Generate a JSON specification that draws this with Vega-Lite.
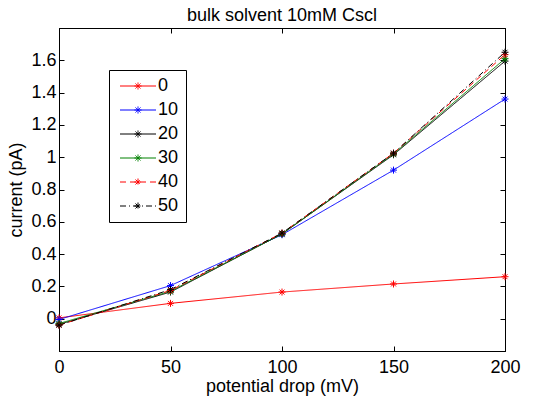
{
  "$schema": "https://vega.github.io/schema/vega-lite/v6.json",
  "width": 446,
  "height": 323,
  "autosize": {"type": "none"},
  "padding": {"left": 59, "top": 28, "right": 40, "bottom": 46},
  "background": "white",
  "title": {"text": "bulk solvent 10mM Cscl", "fontSize": 18, "font": "Liberation Sans", "fontWeight": "normal", "color": "black", "anchor": "middle", "offset": 3, "frame": "group"},
  "config": {
    "view": {"stroke": "black", "strokeWidth": 1},
    "font": "Liberation Sans",
    "axis": {"grid": false, "labelFlush": false, "labelOverlap": false, "domainColor": "black", "tickColor": "black", "labelColor": "black", "titleColor": "black", "labelFont": "Liberation Sans", "titleFont": "Liberation Sans", "labelFontSize": 18, "titleFontSize": 18, "titleFontWeight": "normal", "tickSize": -5, "domainWidth": 1, "tickWidth": 1}
  },
  "data": {"values": [
    {"x": 0, "y": 0.005, "series": "0"},
    {"x": 50, "y": 0.095, "series": "0"},
    {"x": 100, "y": 0.165, "series": "0"},
    {"x": 150, "y": 0.215, "series": "0"},
    {"x": 200, "y": 0.26, "series": "0"},
    {"x": 0, "y": -0.005, "series": "10"},
    {"x": 50, "y": 0.205, "series": "10"},
    {"x": 100, "y": 0.52, "series": "10"},
    {"x": 150, "y": 0.92, "series": "10"},
    {"x": 200, "y": 1.36, "series": "10"},
    {"x": 0, "y": -0.035, "series": "20"},
    {"x": 50, "y": 0.165, "series": "20"},
    {"x": 100, "y": 0.525, "series": "20"},
    {"x": 150, "y": 1.015, "series": "20"},
    {"x": 200, "y": 1.595, "series": "20"},
    {"x": 0, "y": -0.03, "series": "30"},
    {"x": 50, "y": 0.17, "series": "30"},
    {"x": 100, "y": 0.525, "series": "30"},
    {"x": 150, "y": 1.02, "series": "30"},
    {"x": 200, "y": 1.61, "series": "30"},
    {"x": 0, "y": -0.04, "series": "40"},
    {"x": 50, "y": 0.175, "series": "40"},
    {"x": 100, "y": 0.53, "series": "40"},
    {"x": 150, "y": 1.025, "series": "40"},
    {"x": 200, "y": 1.635, "series": "40"},
    {"x": 0, "y": -0.04, "series": "50"},
    {"x": 50, "y": 0.18, "series": "50"},
    {"x": 100, "y": 0.53, "series": "50"},
    {"x": 150, "y": 1.025, "series": "50"},
    {"x": 200, "y": 1.65, "series": "50"}
  ]},
  "layer": [
    {
      "mark": {"type": "line", "strokeWidth": 1, "clip": false},
      "encoding": {
        "x": {"field": "x", "type": "quantitative", "scale": {"domain": [0, 200], "nice": false}, "axis": {"values": [0, 50, 100, 150, 200], "title": "potential drop (mV)", "labelPadding": 12, "titlePadding": 1}},
        "y": {"field": "y", "type": "quantitative", "scale": {"domain": [-0.2, 1.8], "nice": false, "zero": false}, "axis": {"values": [0, 0.2, 0.4, 0.6, 0.8, 1, 1.2, 1.4, 1.6], "format": "~g", "title": "current (pA)", "labelPadding": 8, "titlePadding": 5}},
        "color": {"field": "series", "type": "nominal", "scale": {"domain": ["0", "10", "20", "30", "40", "50"], "range": ["#ff0000", "#0000ff", "#000000", "#008000", "#ff0000", "#000000"]},
          "legend": {"orient": "none", "legendX": 50, "legendY": 42, "title": null, "symbolType": "M-1,0H6.2M2.6,-0.7V0.7M1.9,0H3.3M2.1,-0.5L3.1,0.5M2.1,0.5L3.1,-0.5", "symbolSize": 100, "symbolStrokeWidth": 1, "labelFontSize": 18, "labelFont": "Liberation Sans", "labelColor": "black", "labelOffset": 24, "rowPadding": 6, "strokeColor": "black", "fillColor": "white", "padding": 7, "cornerRadius": 0}},
        "strokeDash": {"field": "series", "type": "nominal", "scale": {"domain": ["0", "10", "20", "30", "40", "50"], "range": [[1, 0], [1, 0], [1, 0], [1, 0], [6, 4], [6, 3, 1, 3]]},
          "legend": {"orient": "none", "legendX": 50, "legendY": 42, "title": null, "symbolType": "M-1,0H6.2M2.6,-0.7V0.7M1.9,0H3.3M2.1,-0.5L3.1,0.5M2.1,0.5L3.1,-0.5", "symbolSize": 100, "symbolStrokeWidth": 1, "labelFontSize": 18, "labelFont": "Liberation Sans", "labelColor": "black", "labelOffset": 24, "rowPadding": 6, "strokeColor": "black", "fillColor": "white", "padding": 7, "cornerRadius": 0}}
      }
    },
    {
      "mark": {"type": "point", "shape": "M0,-1V1M-1,0H1M-0.7,-0.7L0.7,0.7M-0.7,0.7L0.7,-0.7", "filled": false, "size": 49, "strokeWidth": 1, "opacity": 1, "clip": false},
      "encoding": {
        "x": {"field": "x", "type": "quantitative", "scale": {"domain": [0, 200], "nice": false}, "axis": {"orient": "top", "values": [0, 50, 100, 150, 200], "labels": false, "title": null}},
        "y": {"field": "y", "type": "quantitative", "scale": {"domain": [-0.2, 1.8], "nice": false, "zero": false}, "axis": {"orient": "right", "values": [0, 0.2, 0.4, 0.6, 0.8, 1, 1.2, 1.4, 1.6], "labels": false, "title": null}},
        "color": {"field": "series", "type": "nominal", "legend": null}
      }
    }
  ],
  "resolve": {"axis": {"x": "independent", "y": "independent"}}
}
